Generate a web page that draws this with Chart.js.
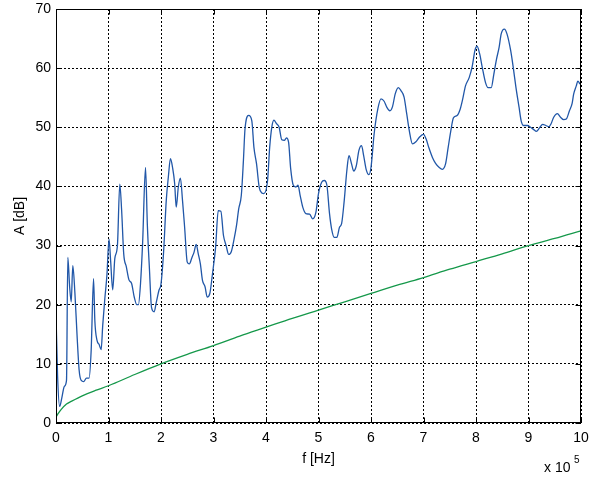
<!DOCTYPE html>
<html>
<head>
<meta charset="utf-8">
<script src="https://cdn.jsdelivr.net/npm/chart.js@4.4.0/dist/chart.umd.min.js"></script>
<style>
  body { margin: 0; background: #fff; }
  #wrap { width: 592px; height: 477px; }
</style>
</head>
<body>
<div id="wrap"><canvas id="spectrumChart" width="592" height="477"></canvas></div>
<script>
// measured spectrum (f in units of 1e5 Hz, A in dB)
const freq = [
  0.00, 0.03, 0.07, 0.11, 0.16, 0.20, 0.225, 0.26, 0.29, 0.32, 0.36, 0.40, 0.44, 0.48, 0.53, 0.58, 0.63, 0.67,
  0.715, 0.74, 0.78, 0.82, 0.86, 0.89, 0.93, 0.97, 1.01, 1.04, 1.08, 1.12, 1.17, 1.215, 1.25, 1.29, 1.34, 1.39,
  1.44, 1.49, 1.54, 1.57, 1.61, 1.65, 1.705, 1.74, 1.78, 1.82, 1.87, 1.91, 1.96, 2.00, 2.05, 2.10, 2.14, 2.18,
  2.22, 2.26, 2.29, 2.33, 2.37, 2.41, 2.45, 2.50, 2.54, 2.59, 2.63, 2.67, 2.71, 2.75, 2.79, 2.84, 2.88, 2.93,
  2.98, 3.04, 3.09, 3.14, 3.19, 3.24, 3.29, 3.34, 3.39, 3.44, 3.48, 3.53, 3.57, 3.60, 3.67, 3.73, 3.77, 3.82,
  3.87, 3.92, 3.96, 4.03, 4.07, 4.11, 4.15, 4.20, 4.25, 4.30, 4.35, 4.39, 4.43, 4.47, 4.52, 4.57, 4.61, 4.65,
  4.70, 4.76, 4.83, 4.89, 4.95, 5.00, 5.06, 5.11, 5.16, 5.21, 5.25, 5.30, 5.35, 5.40, 5.44, 5.49, 5.54, 5.58,
  5.63, 5.67, 5.72, 5.77, 5.82, 5.86, 5.91, 5.96, 6.00, 6.06, 6.13, 6.19, 6.25, 6.30, 6.36, 6.41, 6.46, 6.52,
  6.57, 6.63, 6.68, 6.73, 6.79, 6.85, 6.93, 7.00, 7.05, 7.10, 7.17, 7.23, 7.30, 7.36, 7.42, 7.47, 7.52, 7.57,
  7.64, 7.70, 7.74, 7.80, 7.87, 7.93, 7.98, 8.02, 8.07, 8.12, 8.18, 8.23, 8.29, 8.34, 8.39, 8.44, 8.48, 8.54,
  8.59, 8.66, 8.71, 8.76, 8.82, 8.86, 8.91, 8.98, 9.04, 9.10, 9.15, 9.21, 9.27, 9.33, 9.39, 9.43, 9.48, 9.55,
  9.61, 9.67, 9.72, 9.78, 9.83, 9.86, 9.91, 9.94, 9.98
];
const level = [
  18.5, 8.0, 2.8, 4.2, 6.2, 7.2, 28.0, 23.0, 20.5, 26.6, 22.0, 15.0, 9.0, 7.2, 7.0, 7.6, 7.6, 12.3,
  24.4, 17.3, 14.0, 13.3, 12.4, 16.5, 21.0, 25.0, 31.1, 27.5, 22.5, 27.8, 30.0, 40.4, 36.0, 28.6, 26.4, 24.2,
  23.6, 21.3, 20.0, 20.0, 23.6, 30.5, 43.2, 33.5, 26.0, 19.5, 18.8, 20.4, 22.4, 23.5, 29.0, 37.6, 41.6, 44.7,
  43.2, 40.5, 36.5, 39.9, 41.4, 37.6, 33.1, 27.2, 26.9, 28.0, 28.9, 30.2, 28.6, 26.9, 24.1, 23.0, 21.3, 21.9,
  25.2, 29.7, 35.9, 35.8, 31.7, 30.0, 28.5, 29.0, 31.0, 33.5, 36.2, 38.5, 44.4, 49.7, 52.0, 51.1, 46.6, 43.8,
  39.9, 38.9, 38.8, 41.0, 46.6, 50.0, 51.2, 50.6, 50.0, 47.9, 47.8, 48.2, 47.5, 43.0, 40.2, 39.9, 40.2, 38.5,
  36.5, 35.4, 35.3, 34.5, 35.6, 38.8, 40.7, 41.0, 40.2, 35.4, 32.8, 31.4, 31.4, 33.1, 33.7, 37.6, 42.7, 45.2,
  43.8, 42.6, 43.5, 46.1, 46.9, 45.2, 42.8, 42.0, 43.2, 48.9, 53.1, 54.8, 54.4, 53.4, 52.8, 53.5, 55.6, 56.7,
  56.2, 55.1, 52.3, 49.4, 47.2, 47.5, 48.4, 48.8, 48.0, 46.6, 44.9, 43.9, 43.2, 42.9, 43.8, 46.6, 49.4, 51.6,
  52.0, 53.1, 54.5, 57.0, 58.4, 60.4, 63.0, 63.7, 62.4, 60.1, 57.6, 56.7, 56.7, 59.0, 61.5, 63.5, 65.8, 66.6,
  65.8, 63.0, 60.1, 56.8, 53.4, 51.1, 50.3, 50.3, 50.0, 49.6, 49.3, 49.9, 50.5, 50.3, 50.1, 50.6, 51.7, 52.3,
  51.7, 51.3, 51.4, 52.8, 54.0, 55.6, 57.0, 57.8, 57.3
];

// reference / noise curve
const noiseFreq = [0, 0.05, 0.1, 0.2, 0.3, 0.5, 0.75, 1, 1.5, 2, 2.5, 3, 3.5, 4, 4.5, 5, 5.5, 6, 6.5, 7, 7.5, 8, 8.5, 9, 9.5, 10];
const noiseLevel = [1.0, 1.7, 2.3, 3.2, 3.7, 4.6, 5.5, 6.3, 8.2, 10.0, 11.6, 13.1, 14.7, 16.2, 17.7, 19.1, 20.5, 21.9, 23.3, 24.6, 26.0, 27.3, 28.6, 30.0, 31.2, 32.5];

const xTicks = [0, 1, 2, 3, 4, 5, 6, 7, 8, 9, 10];
const yTicks = [0, 10, 20, 30, 40, 50, 60, 70];

const FONT = '"Liberation Sans", Arial, Helvetica, sans-serif';

// black frame, inward tick marks and the "x 10^5" exponent label
const framePlugin = {
  id: 'frame',
  afterDraw(chart) {
    const { ctx, chartArea: a, scales } = chart;
    const L = Math.round(a.left) + 0.5, R = Math.round(a.right) - 0.5;
    const T = Math.round(a.top) + 0.5, B = Math.round(a.bottom) - 0.5;
    const len = 5;
    ctx.save();
    ctx.strokeStyle = '#000';
    ctx.lineWidth = 1;
    ctx.setLineDash([]);
    ctx.strokeRect(L, T, R - L, B - T);
    ctx.beginPath();
    xTicks.forEach(v => {
      const x = Math.round(scales.x.getPixelForValue(v)) + 0.5;
      ctx.moveTo(x, B); ctx.lineTo(x, B - len);
      ctx.moveTo(x, T); ctx.lineTo(x, T + len);
    });
    yTicks.forEach(v => {
      const y = Math.round(scales.y.getPixelForValue(v)) + 0.5;
      ctx.moveTo(L, y); ctx.lineTo(L + len, y);
      ctx.moveTo(R, y); ctx.lineTo(R - len, y);
    });
    ctx.stroke();

    ctx.fillStyle = '#000';
    ctx.textBaseline = 'alphabetic';
    ctx.textAlign = 'left';
    ctx.font = '14px ' + FONT;
    ctx.fillText('x 10', 544, 472);
    ctx.font = '10px ' + FONT;
    ctx.fillText('5', 574, 463);
    ctx.restore();
  }
};

const ctx = document.getElementById('spectrumChart').getContext('2d');
const spectrumChart = new Chart(ctx, {
  type: 'line',
  data: {
    datasets: [
      {
        label: 'A',
        data: freq.map((f, i) => ({ x: f, y: level[i] })),
        borderColor: '#2157a8',
        borderWidth: 1.3,
        pointRadius: 0,
        fill: false,
        cubicInterpolationMode: 'monotone'
      },
      {
        label: 'noise',
        data: noiseFreq.map((f, i) => ({ x: f, y: noiseLevel[i] })),
        borderColor: '#15984a',
        borderWidth: 1.3,
        pointRadius: 0,
        fill: false,
        cubicInterpolationMode: 'monotone'
      }
    ]
  },
  options: {
    responsive: false,
    animation: false,
    layout: { padding: { top: 9, right: 11, left: 0, bottom: 0 } },
    plugins: {
      legend: { display: false },
      tooltip: { enabled: false }
    },
    scales: {
      x: {
        type: 'linear',
        min: 0,
        max: 10,
        afterBuildTicks: s => { s.ticks = xTicks.map(v => ({ value: v })); },
        afterFit: s => { s.height = 54; s.paddingLeft = 0; s.paddingRight = 0; },
        ticks: { color: '#000', font: { size: 14, family: FONT }, padding: 7, maxRotation: 0 },
        grid: { color: '#000', lineWidth: 1, drawTicks: false },
        border: { display: false, dash: [2, 2] },
        title: { display: true, text: 'f [Hz]', color: '#000', font: { size: 14, family: FONT }, padding: { top: 9, bottom: 9 } }
      },
      y: {
        type: 'linear',
        min: 0,
        max: 70,
        afterBuildTicks: s => { s.ticks = yTicks.map(v => ({ value: v })); },
        afterFit: s => { s.width = 56; s.paddingTop = 0; s.paddingBottom = 0; },
        ticks: { color: '#000', font: { size: 14, family: FONT }, padding: 5 },
        grid: { color: '#000', lineWidth: 1, drawTicks: false },
        border: { display: false, dash: [2, 2] },
        title: { display: true, text: 'A [dB]', color: '#000', font: { size: 14, family: FONT }, padding: { top: 12, bottom: 12 } }
      }
    }
  },
  plugins: [framePlugin]
});
</script>
</body>
</html>
